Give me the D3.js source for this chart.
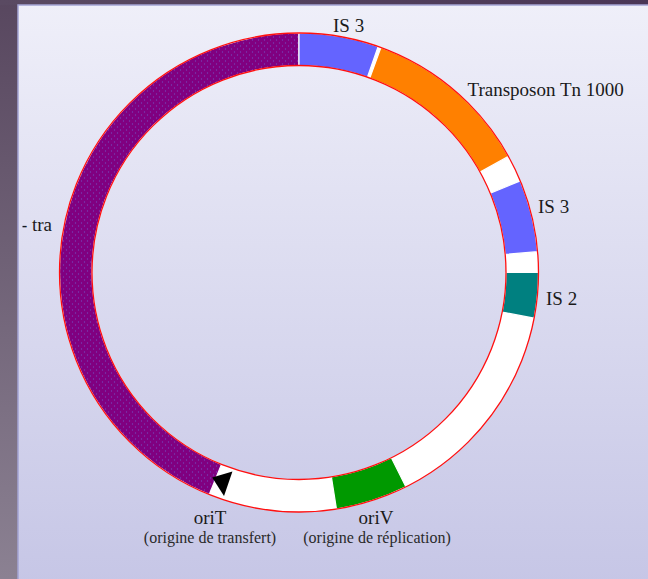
<!DOCTYPE html>
<html><head><meta charset="utf-8">
<script src="https://cdn.jsdelivr.net/npm/d3@7"></script>
<style>body{margin:0;overflow:hidden;background:#5a4a62}</style>
</head><body>
<svg id="c" width="648" height="579"></svg>
<script>
// Plasmid map data (positions in degrees clockwise from top)
const segNames  = ["tra", "IS 3", "Tn 1000", "IS 3", "IS 2", "oriV"];
const segStart  = [202, 0, 20, 67.5, 90, 153.5];
const segEnd    = [360, 19.3, 61, 85, 101, 171];
const segColors = ["#800080", "#6464ff", "#ff8000", "#6464ff", "#008080", "#009900"];
const oriTPos   = [200];
const labels    = ["IS 3", "Transposon Tn 1000", "IS 3", "IS 2", "- tra", "oriT", "oriV"];
const subLabels = ["(origine de transfert)", "(origine de réplication)"];

const W = 648, H = 579;
const cx = 299, cy = 272.5, rOut = 239.5, rIn = 207;
const svg = d3.select("#c");
const defs = svg.append("defs");

const gL = defs.append("linearGradient").attr("id","left").attr("x1",0).attr("y1",0).attr("x2",0).attr("y2",1);
gL.append("stop").attr("offset",0).attr("stop-color","#58475f");
gL.append("stop").attr("offset",1).attr("stop-color","#8b8192");
const gT = defs.append("linearGradient").attr("id","top").attr("x1",0).attr("y1",0).attr("x2",1).attr("y2",0);
gT.append("stop").attr("offset",0).attr("stop-color","#5a4a62");
gT.append("stop").attr("offset",1).attr("stop-color","#4a3656");
const gP = defs.append("linearGradient").attr("id","panel").attr("x1",0).attr("y1",0).attr("x2",0).attr("y2",1);
gP.append("stop").attr("offset",0).attr("stop-color","#efeff9");
gP.append("stop").attr("offset",1).attr("stop-color","#c6c6e6");

const pat = defs.append("pattern").attr("id","dots").attr("patternUnits","userSpaceOnUse")
  .attr("width",6).attr("height",6);
pat.append("rect").attr("width",6).attr("height",6).attr("fill","#800080");
pat.append("circle").attr("cx",1.5).attr("cy",1.5).attr("r",0.6).attr("fill","#7060d0");
pat.append("circle").attr("cx",4.5).attr("cy",4.5).attr("r",0.6).attr("fill","#7060d0");

defs.append("clipPath").attr("id","clipTra").append("rect")
  .attr("x",22.5).attr("y",0).attr("width",W).attr("height",H);

// panel
svg.append("rect").attr("x",0).attr("y",0).attr("width",W).attr("height",H).attr("fill","url(#left)");
svg.append("rect").attr("x",0).attr("y",0).attr("width",W).attr("height",5).attr("fill","url(#top)");
svg.append("rect").attr("x",18).attr("y",5).attr("width",W).attr("height",H)
  .attr("fill","url(#panel)").attr("stroke","#a4a4d4").attr("stroke-width",1.5);

const ang = d3.scaleLinear().domain([0,360]).range([0, 2*Math.PI]);
const arc = d3.arc().innerRadius(rIn).outerRadius(rOut);
const g = svg.append("g").attr("transform",`translate(${cx},${cy})`);

// white base ring
g.append("path").attr("d", arc({startAngle:0, endAngle:2*Math.PI})).attr("fill","#ffffff");

// segments
g.selectAll("path.seg").data(segNames.map((n,i)=>({n, s:segStart[i], e:segEnd[i], c:segColors[i]})))
  .join("path").attr("class","seg")
  .attr("d", d => arc({startAngle: ang(d.s), endAngle: ang(d.e)}))
  .attr("fill", d => d.n === "tra" ? "url(#dots)" : d.c)
  .attr("stroke","#ffffff").attr("stroke-width",1.2);

// red outlines
g.append("circle").attr("r",rOut).attr("fill","none").attr("stroke","#ff1010").attr("stroke-width",1.3);
g.append("circle").attr("r",rIn).attr("fill","none").attr("stroke","#ff1010").attr("stroke-width",1.3);

// oriT arrowhead
g.selectAll("path.ori").data(oriTPos).join("path").attr("class","ori")
  .attr("transform", d => `rotate(${d}) translate(0,${-(rIn+rOut)/2})`)
  .attr("d","M11.5,1 L-6,-12.5 L-5.5,13.5 Z").attr("fill","#000");

// labels
const font = "'Liberation Serif','Times New Roman',serif";
const lab = [
  {t:labels[0], x:333, y:31.5, a:"start"},
  {t:labels[1], x:467.5, y:95.5, a:"start"},
  {t:labels[2], x:538, y:213, a:"start"},
  {t:labels[3], x:546, y:305, a:"start"},
  {t:labels[4], x:52, y:231, a:"end", clip:true},
  {t:labels[5], x:210, y:524, a:"middle"},
  {t:labels[6], x:376, y:524, a:"middle"}
];
svg.selectAll("text.lab").data(lab).join("text").attr("class","lab")
  .attr("x",d=>d.x).attr("y",d=>d.y).attr("text-anchor",d=>d.a)
  .attr("clip-path",d=>d.clip ? "url(#clipTra)" : null)
  .attr("font-family",font).attr("font-size",19).attr("fill","#1a1a1a").text(d=>d.t);
const sub = [{t:subLabels[0], x:210, y:543},{t:subLabels[1], x:377, y:543}];
svg.selectAll("text.sub").data(sub).join("text").attr("class","sub")
  .attr("x",d=>d.x).attr("y",d=>d.y).attr("text-anchor","middle")
  .attr("font-family",font).attr("font-size",16).attr("fill","#2a2a2a").text(d=>d.t);
</script>
</body></html>
